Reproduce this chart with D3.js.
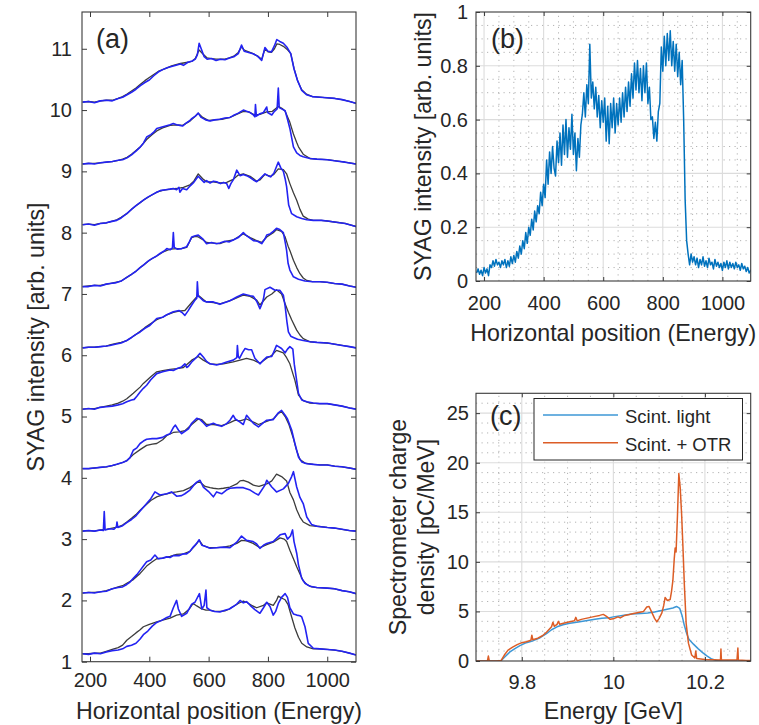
<!DOCTYPE html>
<html><head><meta charset="utf-8">
<script src="https://cdn.jsdelivr.net/npm/d3@7"></script>
<style>
body{margin:0;background:#fff}
svg{display:block}
text{font-family:"Liberation Sans",Arial,Helvetica,sans-serif;fill:#262626}
</style>
</head><body>
<svg id="chart" width="759" height="725"></svg>
<script>
// ---------------- DATA ----------------
// Panel (a): ten stacked shot pairs (gray = reference, blue = comparison); values relative to each offset
const aOffsets = [1,2,3,4,5,6,7,8,9,10];
const aXTicks = [200,400,600,800,1000];
const aYTicks = [1,2,3,4,5,6,7,8,9,10,11];

const aBlue1 = [[175,.13],[195,.12],[215,.14],[235,.13],[255,.16],[275,.18],[295,.19],[310,.21],[324,.25],[340,.27],[355,.30],[369,.37],[380,.44],[395,.50],[410,.58],[425,.64],[440,.67],[459,.72],[470,.74],[481,.88],[492,1.0],[498,.86],[509,.74],[526,.79],[543,.94],[554,.97],[569,1.11],[577,.86],[585,.92],[591,1.17],[594,.88],[605,.84],[620,.82],[638,.81],[655,.84],[670,.86],[683,.90],[695,.94],[706,1.0],[717,.96],[728,.98],[740,.92],[756,.85],[773,.79],[785,.88],[796,.97],[807,.90],[818,.76],[826,.82],[835,.95],[846,1.05],[858,1.11],[866,1.05],[874,.88],[886,.78],[897,.76],[908,.75],[914,.73],[925,.57],[936,.30],[953,.22],[975,.21],[1000,.20],[1025,.19],[1050,.17],[1075,.14],[1097,.11]];
const aGray1 = [[175,.13],[195,.13],[215,.14],[235,.14],[255,.17],[275,.20],[295,.23],[310,.27],[324,.35],[340,.41],[355,.47],[369,.52],[380,.57],[400,.61],[425,.65],[445,.68],[470,.71],[492,.76],[515,.78],[535,.86],[548,.95],[560,.91],[577,.86],[591,.84],[605,.84],[620,.82],[638,.82],[655,.83],[670,.86],[683,.90],[700,.95],[717,.99],[728,.97],[745,.92],[762,.88],[785,.92],[796,.96],[807,.94],[818,.92],[829,1.0],[835,1.07],[846,1.04],[858,1.01],[868,.93],[880,.73],[891,.55],[903,.40],[914,.30],[931,.24],[953,.21],[975,.21],[1000,.20],[1025,.19],[1050,.17],[1075,.14],[1097,.11]];

const aBlue2 = [[175,.12],[195,.13],[215,.12],[235,.14],[255,.15],[275,.19],[295,.21],[310,.22],[324,.26],[335,.30],[346,.36],[358,.42],[369,.49],[380,.56],[391,.63],[405,.66],[419,.74],[430,.68],[445,.69],[459,.71],[470,.70],[481,.73],[500,.73],[515,.76],[526,.76],[537,.80],[548,.87],[560,.93],[568,.99],[577,.90],[590,.88],[605,.85],[627,.86],[650,.87],[672,.86],[695,.95],[711,1.05],[728,.98],[750,.96],[762,.92],[773,.85],[785,.90],[796,.93],[818,.96],[841,1.07],[858,1.09],[866,1.0],[876,1.05],[883,1.15],[888,.96],[897,.77],[903,.58],[914,.36],[925,.28],[942,.23],[965,.21],[1000,.20],[1025,.19],[1050,.16],[1075,.14],[1097,.11]];
const aGray2 = [[175,.12],[195,.13],[215,.13],[235,.14],[255,.16],[275,.19],[295,.22],[310,.24],[324,.28],[346,.34],[369,.44],[391,.56],[410,.63],[425,.68],[445,.69],[470,.72],[492,.75],[515,.76],[537,.80],[555,.90],[568,.98],[580,.90],[600,.86],[627,.86],[650,.87],[672,.89],[695,.93],[711,.98],[728,.97],[750,.93],[773,.86],[796,.91],[818,.95],[841,1.02],[855,1.0],[863,.96],[874,.82],[886,.68],[897,.55],[908,.43],[919,.32],[931,.26],[947,.22],[965,.21],[1000,.20],[1025,.19],[1050,.16],[1075,.14],[1097,.11]];

const aBlue3 = [[175,.13],[195,.14],[215,.13],[235,.15],[245,.14],[248,.45],[251,.15],[267,.17],[280,.16],[289,.20],[291,.28],[294,.19],[310,.22],[324,.27],[340,.32],[355,.38],[369,.46],[380,.52],[391,.58],[405,.66],[419,.77],[436,.72],[459,.74],[475,.77],[492,.70],[509,.71],[520,.74],[537,.80],[550,.88],[560,.93],[571,.96],[582,.85],[599,.78],[616,.69],[627,.77],[644,.74],[660,.80],[672,.83],[695,.84],[717,.84],[740,.80],[756,.75],[768,.72],[790,.88],[796,.96],[813,.85],[829,.77],[852,.82],[869,.91],[880,1.02],[886,1.10],[897,.85],[908,.68],[919,.58],[931,.36],[947,.24],[965,.21],[1000,.19],[1025,.18],[1050,.16],[1075,.14],[1097,.13]];
const aGray3 = [[175,.13],[195,.14],[215,.13],[235,.15],[255,.16],[275,.18],[295,.20],[310,.23],[324,.28],[340,.34],[355,.40],[369,.47],[380,.52],[391,.57],[405,.63],[425,.69],[445,.72],[459,.74],[475,.76],[492,.77],[515,.79],[537,.84],[560,.92],[571,.93],[588,.86],[605,.84],[616,.83],[633,.82],[650,.83],[672,.85],[695,.90],[706,.95],[717,.96],[734,.93],[751,.88],[770,.86],[796,.90],[813,.95],[829,1.06],[846,1.02],[863,.95],[874,.76],[886,.64],[897,.48],[908,.36],[919,.28],[942,.22],[965,.21],[1000,.19],[1025,.18],[1050,.16],[1075,.14],[1097,.13]];

const aBlue4 = [[175,.15],[195,.15],[215,.16],[234,.17],[255,.18],[275,.20],[290,.22],[310,.25],[324,.28],[335,.33],[346,.45],[358,.49],[369,.56],[380,.60],[391,.63],[410,.64],[425,.64],[445,.66],[459,.70],[470,.72],[481,.82],[488,.86],[498,.78],[509,.72],[520,.76],[532,.80],[543,.89],[560,.97],[571,.95],[582,.90],[593,.84],[605,.87],[616,.89],[630,.86],[644,.84],[660,.88],[672,.94],[683,1.02],[690,.96],[706,.91],[717,.87],[728,1.02],[740,.95],[751,.89],[768,.83],[785,.90],[796,.94],[818,.95],[835,1.06],[846,1.10],[858,1.02],[866,.96],[880,.78],[891,.56],[903,.34],[914,.26],[931,.23],[953,.22],[975,.21],[1000,.21],[1025,.19],[1050,.18],[1075,.16],[1097,.14]];
const aGray4 = [[175,.15],[195,.15],[215,.16],[234,.17],[255,.18],[275,.20],[290,.22],[310,.25],[324,.28],[346,.38],[369,.46],[391,.53],[410,.55],[425,.56],[445,.62],[459,.69],[481,.74],[500,.75],[520,.77],[543,.87],[565,.96],[577,.95],[593,.87],[616,.87],[644,.85],[672,.90],[690,.94],[706,.93],[728,.96],[751,.91],[768,.87],[796,.92],[818,.96],[835,1.05],[846,1.08],[858,1.0],[870,.88],[886,.64],[897,.44],[908,.30],[925,.24],[953,.22],[975,.21],[1000,.21],[1025,.19],[1050,.18],[1075,.16],[1097,.14]];

const aBlue5 = [[175,.12],[195,.13],[215,.12],[234,.15],[255,.16],[275,.17],[295,.19],[310,.21],[324,.24],[340,.27],[349,.28],[358,.33],[369,.40],[380,.46],[391,.51],[405,.60],[425,.70],[445,.73],[470,.76],[481,.75],[492,.78],[509,.81],[520,.86],[526,.80],[532,.82],[543,.89],[560,.97],[571,1.03],[582,.97],[593,.90],[605,.86],[627,.84],[644,.86],[661,.89],[683,.92],[695,.96],[697,1.16],[700,.98],[704,.95],[715,1.05],[723,1.11],[735,1.09],[745,1.09],[756,.95],[773,.86],[785,.92],[796,.97],[813,.98],[822,1.08],[829,1.16],[846,1.11],[858,1.04],[866,1.1],[874,1.14],[884,1.1],[889,.85],[895,.65],[903,.38],[914,.27],[931,.24],[953,.22],[975,.21],[1000,.21],[1025,.19],[1050,.17],[1075,.14],[1097,.12]];
const aGray5 = [[175,.12],[195,.13],[215,.13],[234,.15],[255,.17],[275,.19],[295,.22],[310,.25],[324,.29],[346,.38],[369,.48],[380,.54],[405,.65],[425,.73],[445,.75],[470,.77],[492,.78],[515,.80],[543,.92],[565,.98],[582,.92],[605,.86],[627,.85],[650,.86],[683,.89],[706,.92],[728,.95],[751,.92],[773,.87],[796,.95],[813,1.0],[829,1.08],[852,1.04],[863,.96],[874,.86],[891,.59],[903,.35],[919,.26],[942,.22],[975,.21],[1000,.21],[1025,.19],[1050,.17],[1075,.14],[1097,.12]];

const aBlue6 = [[175,.12],[195,.13],[215,.13],[235,.14],[255,.15],[267,.16],[285,.18],[305,.20],[324,.24],[340,.29],[355,.34],[369,.38],[385,.44],[400,.48],[415,.55],[425,.60],[445,.62],[459,.66],[481,.71],[500,.73],[512,.69],[520,.65],[530,.72],[543,.82],[554,.90],[560,.93],[562,1.20],[565,.96],[569,.95],[582,.89],[593,.87],[616,.87],[638,.83],[655,.86],[672,.89],[695,.95],[717,1.0],[740,.97],[751,.96],[762,.88],[773,.76],[780,.84],[785,.92],[790,1.07],[807,1.11],[824,1.06],[840,1.06],[852,.98],[858,.80],[864,.55],[869,.38],[877,.31],[886,.29],[900,.26],[919,.24],[942,.22],[965,.21],[1000,.20],[1025,.18],[1050,.16],[1075,.14],[1097,.12]];
const aGray6 = [[175,.12],[195,.13],[215,.13],[235,.14],[255,.15],[267,.17],[285,.19],[305,.21],[324,.24],[340,.29],[355,.34],[369,.39],[385,.45],[400,.50],[425,.58],[445,.62],[459,.66],[481,.70],[500,.72],[520,.73],[543,.86],[565,.98],[582,.91],[593,.87],[616,.86],[638,.84],[660,.87],[683,.91],[706,.96],[717,.98],[740,.96],[762,.90],[773,.82],[796,.95],[813,1.0],[829,1.07],[846,1.0],[858,.84],[869,.70],[880,.58],[897,.41],[908,.33],[919,.27],[942,.22],[965,.21],[1000,.20],[1025,.18],[1050,.16],[1075,.14],[1097,.12]];

const aBlue7 = [[175,.12],[195,.12],[215,.14],[235,.13],[255,.16],[267,.17],[285,.18],[305,.21],[324,.27],[340,.32],[355,.37],[369,.43],[380,.47],[395,.53],[410,.58],[425,.62],[436,.66],[450,.70],[459,.74],[470,.72],[478,.75],[481,1.0],[484,.76],[495,.73],[509,.74],[526,.77],[535,.85],[543,.93],[555,.95],[565,.96],[582,.89],[593,.82],[610,.84],[627,.82],[638,.83],[655,.86],[670,.85],[683,.88],[700,.92],[717,1.0],[728,.95],[751,.87],[765,.86],[779,.82],[790,.90],[796,.96],[807,.98],[818,1.02],[829,1.07],[840,1.05],[852,1.0],[858,.85],[863,.71],[868,.50],[874,.39],[886,.28],[903,.24],[925,.21],[950,.20],[975,.20],[1000,.19],[1025,.17],[1050,.16],[1075,.13],[1097,.11]];
const aGray7 = [[175,.12],[195,.13],[215,.14],[235,.14],[255,.16],[267,.17],[285,.19],[305,.21],[324,.27],[340,.32],[355,.37],[369,.43],[380,.47],[400,.55],[425,.62],[445,.68],[470,.73],[495,.74],[509,.74],[526,.76],[543,.92],[555,.94],[565,.93],[582,.88],[593,.84],[616,.83],[638,.82],[661,.86],[683,.88],[706,.95],[717,.98],[740,.92],[762,.87],[779,.84],[796,.93],[818,1.0],[829,1.05],[846,1.02],[858,.93],[868,.78],[874,.71],[886,.55],[897,.43],[908,.33],[919,.26],[931,.22],[950,.20],[975,.20],[1000,.19],[1025,.17],[1050,.16],[1075,.13],[1097,.11]];

const aBlue8 = [[175,.13],[195,.14],[215,.12],[235,.15],[255,.16],[270,.18],[290,.20],[305,.24],[324,.31],[340,.38],[355,.44],[369,.49],[380,.53],[395,.58],[410,.62],[425,.66],[440,.69],[455,.70],[470,.71],[481,.72],[492,.70],[500,.74],[503,.66],[512,.72],[526,.70],[537,.76],[550,.82],[565,.92],[575,.87],[585,.82],[593,.85],[605,.81],[616,.84],[627,.83],[640,.80],[650,.82],[661,.80],[668,.72],[675,.80],[683,.86],[695,1.02],[706,.93],[717,.95],[728,.93],[740,.90],[751,.86],[762,.83],[773,.88],[790,.96],[800,.93],[809,.91],[820,.97],[829,1.08],[835,1.15],[843,1.06],[852,1.0],[858,.88],[863,.75],[870,.45],[880,.31],[897,.26],[914,.23],[931,.21],[953,.20],[980,.20],[1000,.19],[1030,.17],[1060,.15],[1097,.10]];
const aGray8 = [[175,.13],[195,.14],[215,.13],[235,.15],[255,.16],[270,.18],[290,.21],[305,.25],[324,.31],[340,.38],[355,.44],[369,.49],[380,.53],[400,.59],[425,.66],[445,.69],[470,.71],[492,.72],[515,.74],[537,.78],[550,.84],[565,.96],[580,.88],[593,.83],[616,.83],[640,.81],[661,.82],[683,.87],[700,.94],[717,.96],[740,.92],[762,.84],[773,.86],[790,.95],[809,.92],[820,.95],[835,1.04],[852,1.03],[863,.96],[874,.80],[886,.65],[897,.53],[908,.38],[919,.27],[936,.22],[953,.20],[980,.20],[1000,.19],[1030,.17],[1060,.15],[1097,.10]];

const aBlue9 = [[175,.12],[195,.13],[215,.12],[235,.14],[255,.15],[275,.16],[295,.18],[310,.19],[325,.22],[340,.27],[355,.33],[370,.40],[380,.46],[391,.56],[405,.60],[415,.64],[425,.70],[440,.72],[455,.74],[470,.76],[481,.78],[492,.76],[503,.75],[512,.74],[525,.79],[537,.83],[543,.86],[555,.90],[565,.95],[575,.88],[590,.84],[605,.82],[620,.84],[638,.85],[655,.87],[672,.88],[683,.91],[700,.95],[717,1.0],[728,.98],[740,.96],[751,.92],[756,.89],[758,1.09],[761,.90],[773,.94],[785,.96],[796,1.05],[799,.96],[813,.92],[822,.98],[831,1.02],[835,1.36],[838,1.04],[846,1.02],[858,.99],[866,.85],[874,.70],[886,.40],[897,.30],[908,.26],[919,.24],[942,.21],[965,.20],[1000,.19],[1030,.17],[1060,.15],[1097,.12]];
const aGray9 = [[175,.12],[195,.13],[215,.13],[235,.14],[255,.15],[275,.16],[295,.18],[310,.20],[325,.23],[340,.28],[355,.34],[370,.40],[391,.52],[410,.60],[425,.66],[445,.71],[470,.75],[492,.76],[512,.75],[537,.82],[555,.90],[565,.95],[580,.88],[600,.83],[620,.84],[645,.85],[672,.88],[700,.94],[717,.98],[735,.97],[756,.92],[773,.93],[796,.97],[815,.98],[835,1.06],[850,1.02],[858,.98],[874,.80],[886,.61],[897,.47],[903,.40],[919,.28],[942,.21],[965,.20],[1000,.19],[1030,.17],[1060,.15],[1097,.12]];

const aBlue10 = [[175,.13],[195,.14],[215,.12],[235,.15],[255,.16],[275,.15],[295,.19],[310,.21],[325,.25],[340,.29],[355,.34],[370,.40],[385,.45],[400,.49],[415,.56],[430,.62],[445,.66],[460,.69],[475,.71],[490,.73],[505,.75],[515,.73],[530,.78],[545,.80],[555,.83],[562,.90],[568,1.09],[575,1.0],[585,.87],[595,.83],[610,.84],[625,.81],[640,.83],[655,.82],[670,.85],[685,.87],[700,.92],[711,1.06],[720,.96],[735,.94],[750,.92],[765,.88],[779,.81],[790,1.02],[800,.96],[812,.95],[822,1.05],[830,1.15],[840,1.12],[852,1.09],[865,1.02],[877,.92],[888,.67],[900,.48],[914,.32],[930,.25],[950,.22],[975,.21],[1000,.20],[1025,.19],[1050,.17],[1075,.14],[1097,.11]];
const aGray10 = [[175,.13],[195,.14],[215,.13],[235,.15],[255,.16],[275,.16],[295,.19],[310,.22],[325,.26],[340,.31],[355,.36],[370,.42],[385,.48],[400,.53],[415,.58],[430,.63],[445,.66],[460,.69],[475,.72],[490,.74],[505,.76],[530,.78],[545,.80],[555,.84],[568,.98],[580,.92],[595,.85],[610,.84],[625,.83],[640,.83],[655,.83],[670,.85],[685,.88],[700,.94],[711,1.03],[720,.98],[735,.95],[750,.92],[765,.88],[779,.83],[790,1.0],[800,.95],[812,.94],[822,1.0],[830,1.08],[840,1.07],[852,1.04],[865,.99],[877,.92],[888,.68],[900,.48],[914,.33],[930,.26],[950,.22],[975,.21],[1000,.20],[1025,.19],[1050,.17],[1075,.14],[1097,.11]];

const aGray = [aGray1,aGray2,aGray3,aGray4,aGray5,aGray6,aGray7,aGray8,aGray9,aGray10];
const aBlue = [aBlue1,aBlue2,aBlue3,aBlue4,aBlue5,aBlue6,aBlue7,aBlue8,aBlue9,aBlue10];

// Panel (b): single shot, samples every 5 units from 175 to 1100
const bStart = 175, bStep = 5;
const bValues = [
 .03,.045,.025,.04,.02,.05,.03,.045,.02,.06,.05,.075,.055,.08,.06,.07,.05,.075,.06,.08,
 .05,.075,.055,.09,.065,.095,.07,.11,.085,.13,.10,.15,.12,.18,.14,.20,.17,.23,.19,.26,
 .22,.28,.25,.33,.28,.36,.31,.45,.36,.48,.40,.50,.42,.39,.52,.44,.55,.43,.58,.47,
 .60,.46,.57,.49,.62,.47,.55,.41,.53,.46,.58,.62,.70,.61,.73,.66,.88,.68,.74,.64,
 .72,.61,.69,.57,.67,.59,.68,.52,.65,.51,.66,.57,.68,.55,.66,.58,.68,.59,.70,.61,
 .72,.63,.74,.65,.77,.68,.81,.71,.82,.70,.79,.67,.80,.70,.81,.66,.72,.60,.61,.53,
 .59,.52,.63,.66,.87,.78,.91,.80,.92,.82,.93,.80,.89,.78,.88,.76,.85,.73,.82,.60,
 .30,.15,.10,.06,.10,.07,.09,.06,.085,.05,.08,.06,.09,.055,.075,.05,.085,.06,.07,.045,
 .08,.055,.07,.05,.065,.04,.07,.05,.075,.045,.07,.05,.065,.045,.07,.05,.06,.04,.065,.045,
 .055,.035,.05,.03,.04,.03
];
const bXTicks = [200,400,600,800,1000];
const bYTicks = [0,0.2,0.4,0.6,0.8,1];

// Panel (c): spectrometer charge density [pC/MeV] vs energy [GeV]
const cLight = [[9.70,0],[9.75,0],[9.755,0.05],[9.765,0.5],[9.775,0.95],[9.785,1.25],[9.796,1.55],[9.81,1.85],[9.825,2.05],[9.84,2.35],[9.854,2.75],[9.865,3.15],[9.877,3.45],[9.89,3.65],[9.905,3.8],[9.92,3.9],[9.94,4.05],[9.96,4.2],[9.975,4.3],[9.99,4.35],[10.0,4.45],[10.02,4.6],[10.04,4.75],[10.06,4.8],[10.075,4.85],[10.09,4.95],[10.10,5.05],[10.115,5.2],[10.13,5.35],[10.138,5.5],[10.145,5.3],[10.15,4.6],[10.155,3.6],[10.16,2.8],[10.165,2.2],[10.175,1.7],[10.185,1.25],[10.195,0.85],[10.205,0.5],[10.215,0.2],[10.225,0.05],[10.235,0],[10.3,0]];
const cOtr = [[9.70,0],[9.725,0],[9.727,0.5],[9.729,0],[9.745,0],[9.755,0.05],[9.762,0.6],[9.77,1.1],[9.78,1.4],[9.79,1.65],[9.8,1.85],[9.81,1.95],[9.82,2.1],[9.822,2.6],[9.824,2.15],[9.835,2.3],[9.845,2.55],[9.854,2.9],[9.865,3.45],[9.868,3.9],[9.871,3.5],[9.877,3.7],[9.88,4.0],[9.883,3.7],[9.895,3.85],[9.905,3.95],[9.915,4.05],[9.918,4.4],[9.921,4.05],[9.93,4.2],[9.94,4.3],[9.95,4.4],[9.96,4.5],[9.97,4.6],[9.978,4.7],[9.985,4.5],[9.993,4.2],[10.0,4.25],[10.01,4.45],[10.015,4.35],[10.025,4.6],[10.035,4.7],[10.044,4.8],[10.055,4.9],[10.066,5.0],[10.073,5.45],[10.078,5.5],[10.084,4.9],[10.09,4.3],[10.095,3.95],[10.10,4.3],[10.106,4.85],[10.11,5.6],[10.113,6.4],[10.118,6.1],[10.124,6.2],[10.127,7.0],[10.13,8.1],[10.133,10.3],[10.135,11.4],[10.137,11.0],[10.14,14.6],[10.143,18.9],[10.146,17.5],[10.149,14.9],[10.152,11.5],[10.155,7.8],[10.159,3.8],[10.164,1.8],[10.171,0.6],[10.178,0.3],[10.18,1.0],[10.182,0.25],[10.2,0.15],[10.234,0.1],[10.235,1.2],[10.236,0.1],[10.27,0.1],[10.272,1.3],[10.273,0.1],[10.29,0.05],[10.3,0.05]];
const cXTicks = [9.8,10,10.2];
const cYTicks = [0,5,10,15,20,25];
const cSeries = [
  {name:"Scint. light", data:cLight, color:"#3d97d6"},
  {name:"Scint. + OTR", data:cOtr, color:"#dc5d26"}
];

// ---------------- DRAWING ----------------
const svg = d3.select("#chart");
const AX = "#3a3a3a";
const TICKFONT = 20, LABELFONT = 23.2;

function frame(xs, ys, xt, yt, tl, padX, padY, fmtX, fmtY) {
  const [x0,x1] = xs.range(), [y0,y1] = ys.range();
  const g = svg.append("g");
  const bottom = g.append("g").attr("transform",`translate(0,${y0})`)
    .call(d3.axisBottom(xs).tickValues(xt).tickSize(-tl).tickSizeOuter(0).tickPadding(padX).tickFormat(fmtX));
  const left = g.append("g").attr("transform",`translate(${x0},0)`)
    .call(d3.axisLeft(ys).tickValues(yt).tickSize(-tl).tickSizeOuter(0).tickPadding(padY).tickFormat(fmtY));
  const top = g.append("g").attr("transform",`translate(0,${y1})`)
    .call(d3.axisTop(xs).tickValues(xt).tickSize(-tl).tickSizeOuter(0).tickFormat(""));
  const right = g.append("g").attr("transform",`translate(${x1},0)`)
    .call(d3.axisRight(ys).tickValues(yt).tickSize(-tl).tickSizeOuter(0).tickFormat(""));
  [bottom,left,top,right].forEach(a=>{
    a.select(".domain").remove();
    a.attr("font-family",null).attr("font-size",null);
    a.selectAll("line").attr("stroke",AX).attr("stroke-width",1);
    a.selectAll("text").style("font-size",TICKFONT+"px").style("fill","#262626");
  });
  g.append("rect").attr("x",x0).attr("y",y1).attr("width",x1-x0).attr("height",y0-y1)
    .attr("fill","none").attr("stroke",AX).attr("stroke-width",1.1);
}

function grid(xs, ys, majX, minX, majY, minY) {
  const [x0,x1] = xs.range(), [y0,y1] = ys.range();
  const g = svg.append("g");
  minX.forEach(v=>g.append("line").attr("x1",xs(v)).attr("x2",xs(v)).attr("y1",y0).attr("y2",y1)
    .attr("stroke","#9a9a9a").attr("stroke-width",1).attr("stroke-dasharray","1.2,4.3").attr("opacity",0.75));
  minY.forEach(v=>g.append("line").attr("x1",x0).attr("x2",x1).attr("y1",ys(v)).attr("y2",ys(v))
    .attr("stroke","#9a9a9a").attr("stroke-width",1).attr("stroke-dasharray","1.2,4.3").attr("opacity",0.75));
  majX.forEach(v=>g.append("line").attr("x1",xs(v)).attr("x2",xs(v)).attr("y1",y0).attr("y2",y1)
    .attr("stroke","#dcdcdc").attr("stroke-width",1.1));
  majY.forEach(v=>g.append("line").attr("x1",x0).attr("x2",x1).attr("y1",ys(v)).attr("y2",ys(v))
    .attr("stroke","#dcdcdc").attr("stroke-width",1.1));
}

function clip(id, xs, ys) {
  const [x0,x1] = xs.range(), [y0,y1] = ys.range();
  svg.append("clipPath").attr("id",id).append("rect").attr("x",x0).attr("y",y1).attr("width",x1-x0).attr("height",y0-y1);
}

// ---------- Panel (a) ----------
const ax = d3.scaleLinear().domain([173,1097]).range([82,356]);
const ay = d3.scaleLinear().domain([1,11.6]).range([661.7,12]);
clip("clipA", ax, ay);
const gA = svg.append("g").attr("clip-path","url(#clipA)");
aOffsets.forEach((off,i)=>{
  const line = d3.line().x(d=>ax(d[0])).y(d=>ay(off + d[1]));
  gA.append("path").datum(aGray[i]).attr("d",line).attr("fill","none")
    .attr("stroke","#3c3c3c").attr("stroke-width",1.3).attr("stroke-linejoin","round");
  gA.append("path").datum(aBlue[i]).attr("d",line).attr("fill","none")
    .attr("stroke","#2323f2").attr("stroke-width",1.6).attr("stroke-linejoin","round");
});
frame(ax, ay, aXTicks, aYTicks, 5, 11, 10, d3.format("d"), d3.format("d"));
svg.append("text").attr("x",96).attr("y",47.5).style("font-size","27px").text("(a)");
svg.append("text").attr("text-anchor","middle").attr("x",219).attr("y",718.5).style("font-size",LABELFONT+"px")
  .text("Horizontal position (Energy)");
svg.append("text").attr("text-anchor","middle").attr("transform","translate(44,337) rotate(-90)")
  .style("font-size",LABELFONT+"px").text("SYAG intensity [arb. units]");

// ---------- Panel (b) ----------
const bx = d3.scaleLinear().domain([173,1095]).range([476,750.7]);
const by = d3.scaleLinear().domain([0,1]).range([281,12]);
grid(bx, by,
  [200,400,600,800,1000],
  d3.range(250,1100,50).filter(v=>v%200!==0),
  [0.2,0.4,0.6,0.8],
  d3.range(1,20).filter(k=>k%4!==0).map(k=>k*0.05));
clip("clipB", bx, by);
svg.append("g").attr("clip-path","url(#clipB)").append("path")
  .datum(bValues.map((v,i)=>[bStart + i*bStep, v]))
  .attr("d", d3.line().x(d=>bx(d[0])).y(d=>by(d[1])))
  .attr("fill","none").attr("stroke","#0072BD").attr("stroke-width",1.5).attr("stroke-linejoin","round");
frame(bx, by, bXTicks, bYTicks, 4, 15, 8, d3.format("d"), d=>d===0?"0":(d===1?"1":d3.format(".1f")(d)));
svg.append("text").attr("x",491).attr("y",48).style("font-size","27px").text("(b)");
svg.append("text").attr("text-anchor","middle").attr("x",613.3).attr("y",341).style("font-size",LABELFONT+"px")
  .text("Horizontal position (Energy)");
svg.append("text").attr("text-anchor","middle").attr("transform","translate(431,146.5) rotate(-90)")
  .style("font-size",LABELFONT+"px").text("SYAG intensity [arb. units]");

// ---------- Panel (c) ----------
const cx = d3.scaleLinear().domain([9.7,10.3]).range([476,750.7]);
const cy = d3.scaleLinear().domain([0,27]).range([661,393.3]);
grid(cx, cy,
  [9.8,10,10.2],
  [9.75,9.85,9.9,9.95,10.05,10.1,10.15,10.25],
  [5,10,15,20,25],
  d3.range(1,27).filter(v=>v%5!==0));
clip("clipC", cx, cy);
const gC = svg.append("g").attr("clip-path","url(#clipC)");
cSeries.forEach(s=>{
  gC.append("path").datum(s.data)
    .attr("d", d3.line().x(d=>cx(d[0])).y(d=>cy(d[1])))
    .attr("fill","none").attr("stroke",s.color).attr("stroke-width",1.5).attr("stroke-linejoin","round");
});
frame(cx, cy, cXTicks, cYTicks, 4, 13.5, 7, d=>String(+d.toFixed(1)), d3.format("d"));
// legend
const lg = svg.append("g");
lg.append("rect").attr("x",534).attr("y",398.5).attr("width",208.5).attr("height",61.5)
  .attr("fill","#fff").attr("stroke","#262626").attr("stroke-width",1);
cSeries.forEach((s,i)=>{
  const yy = 415 + i*27.7;
  lg.append("line").attr("x1",543).attr("x2",618).attr("y1",yy).attr("y2",yy)
    .attr("stroke",s.color).attr("stroke-width",1.5);
  lg.append("text").attr("x",625).attr("y",yy+8).style("font-size","18.5px").text(s.name);
});
svg.append("text").attr("x",490).attr("y",425).style("font-size","27px").text("(c)");
svg.append("text").attr("text-anchor","middle").attr("x",613.3).attr("y",718.5).style("font-size",LABELFONT+"px")
  .text("Energy [GeV]");
const yl = svg.append("text").attr("text-anchor","middle").attr("transform","translate(0,527) rotate(-90)")
  .style("font-size",LABELFONT+"px");
yl.append("tspan").attr("x",0).attr("y",406).text("Spectrometer charge");
yl.append("tspan").attr("x",0).attr("y",434).text("density [pC/MeV]");
</script>
</body></html>
